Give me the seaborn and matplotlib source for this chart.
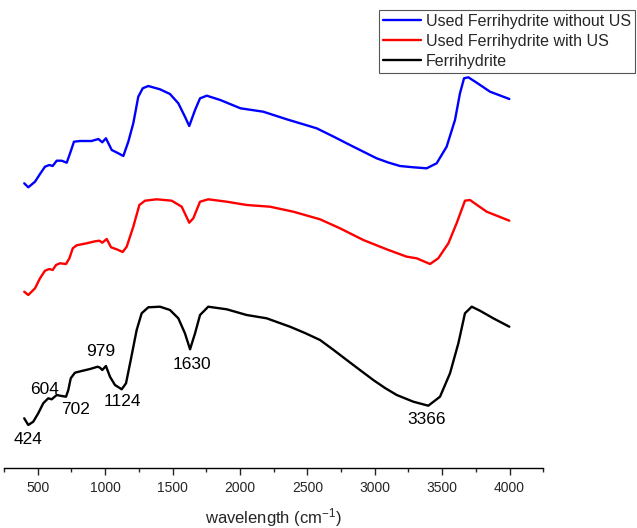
import numpy as np
import pandas as pd
import matplotlib
matplotlib.use("Agg")
import matplotlib.pyplot as plt
import seaborn as sns
from matplotlib.ticker import MultipleLocator

# FTIR spectra (offset transmittance, arbitrary units)
wn_used_noUS = [400, 430, 480, 517, 554, 586, 611, 641, 678, 715, 740, 769, 814, 900, 950, 979,
                1006, 1049, 1098, 1135, 1172, 1209, 1246, 1279, 1320, 1407, 1481, 1543, 1592, 1624,
                1667, 1704, 1754, 1854, 2004, 2173, 2347, 2569, 2700, 2816, 2920, 3014, 3100, 3187,
                3286, 3385, 3459, 3533, 3595, 3632, 3662, 3694, 3756, 3855, 3998]
t_used_noUS = [284.7, 280.7, 286.3, 294, 301.3, 303, 302, 307.3, 307.3, 305.3, 314.7, 326.3, 327, 327,
               329, 325.7, 329.7, 318, 314.7, 312, 326.3, 344.7, 371.3, 379.7, 382, 378.7, 374, 364.7,
               351.3, 342, 358, 369.7, 372.3, 368, 359.7, 356.3, 348.7, 339.7, 331, 323, 316, 309.7,
               305.5, 302, 300.7, 299.7, 304.7, 321.3, 348, 374.7, 389.7, 390.7, 385.3, 376.3, 369]

wn_used_US = [400, 430, 480, 517, 554, 586, 611, 636, 665, 710, 735, 760, 789, 863, 925, 957, 979,
              1012, 1044, 1086, 1130, 1160, 1209, 1254, 1296, 1382, 1494, 1568, 1624, 1654, 1704,
              1765, 1902, 2050, 2223, 2396, 2594, 2742, 2915, 3088, 3237, 3311, 3410, 3471, 3546,
              3607, 3669, 3706, 3830, 3998]
t_used_US = [176.3, 173, 179.7, 189.7, 197.3, 199, 198, 203, 204.7, 204, 209.7, 219.7, 222.7, 224.7,
             226.7, 227.3, 225.3, 229, 220.7, 218.7, 216, 221.3, 241.3, 263, 267.3, 268.7, 267.3,
             261.3, 245.3, 249.7, 266.3, 268.7, 266.3, 263, 261.3, 256.3, 248.7, 239.7, 228, 218.7,
             211.3, 209.7, 204, 209.7, 224.7, 244.7, 267.3, 268, 256.3, 247.3]

wn_ferri = [400, 430, 467, 504, 541, 578, 604, 621, 641, 678, 710, 727, 745, 776, 826, 888, 945, 962,
            979, 1006, 1036, 1073, 1123, 1155, 1190, 1234, 1271, 1320, 1407, 1481, 1543, 1592, 1630,
            1667, 1704, 1765, 1902, 2050, 2198, 2371, 2482, 2594, 2690, 2792, 2890, 2989, 3076, 3163,
            3286, 3397, 3484, 3558, 3620, 3669, 3719, 3780, 3879, 3998]
t_ferri = [49.7, 43, 46.3, 54.7, 64.7, 69.7, 68.7, 70.7, 73, 72, 71.3, 78, 89.7, 95.3, 97, 99, 101.3,
           100.3, 98, 102, 91.3, 83, 78.7, 84.7, 108, 138, 154.7, 160.7, 161.3, 158, 149.7, 134.7,
           118.7, 134.7, 153, 161.3, 158.7, 153, 149.7, 141.3, 135, 128, 118.5, 108, 98, 88, 80, 73,
           66.3, 62.3, 71.3, 94.7, 124.7, 154.7, 161.3, 157.3, 149.7, 141.3]

names = ["Used Ferrihydrite without US", "Used Ferrihydrite with US", "Ferrihydrite"]
colors = ["#0000ff", "#ff0000", "#000000"]

peak_labels = ["424", "604", "702", "979", "1124", "1630", "3366"]
peak_label_x = [430, 554, 784, 969, 1127, 1647, 3385]
peak_label_y = [28.7, 79, 58, 116.3, 66.3, 103.7, 48.7]

sns.set_style("white")
plt.rcParams["font.family"] = ["Liberation Sans", "DejaVu Sans"]
plt.rcParams["mathtext.fontset"] = "custom"
plt.rcParams["mathtext.rm"] = "Liberation Sans"
plt.rcParams["mathtext.it"] = "Liberation Sans:italic"

fig = plt.figure(figsize=(6.37, 5.28), dpi=100)
ax = fig.add_axes([4 / 637, 1 - 468 / 528, (543.3 - 4) / 637, 468 / 528])

series = [(wn_used_noUS, t_used_noUS), (wn_used_US, t_used_US), (wn_ferri, t_ferri)]
for (x, y), name, c in zip(series, names, colors):
    df = pd.DataFrame({"wavenumber": x, "T": y})
    sns.lineplot(data=df, x="wavenumber", y="T", color=c, lw=1.7, label=name,
                 estimator=None, sort=False, ax=ax)

for txt, x, y in zip(peak_labels, peak_label_x, peak_label_y):
    ax.text(x, y, txt, ha="center", va="center", fontsize=12.5, color="black")

ax.set_xlim(250, 4250)
ax.set_ylim(0, 468)
ax.xaxis.set_minor_locator(MultipleLocator(250))
ax.set_xticks(np.arange(500, 4001, 500))
ax.tick_params(axis="x", which="major", direction="out", length=5, width=1, labelsize=10,
               bottom=True, pad=4)
ax.tick_params(axis="x", which="minor", direction="out", length=3, width=1, bottom=True)
ax.set_yticks([])
ax.set_ylabel("")
ax.set_xlabel("wavelength (cm$^{-1}$)", fontsize=12, labelpad=8)
for s in ["left", "top", "right"]:
    ax.spines[s].set_visible(False)
ax.spines["bottom"].set_color("black")
ax.spines["bottom"].set_linewidth(1)

leg = ax.legend(loc="upper left", bbox_to_anchor=(379 / 637, 1 - 10 / 528),
                bbox_transform=fig.transFigure, borderaxespad=0, fontsize=11.5,
                frameon=True, fancybox=False, framealpha=1, edgecolor="#555555",
                handlelength=2.4, handletextpad=0.3, labelspacing=0.3, borderpad=0.25)
leg.get_frame().set_linewidth(0.8)

fig.savefig("out.png", dpi=100)
